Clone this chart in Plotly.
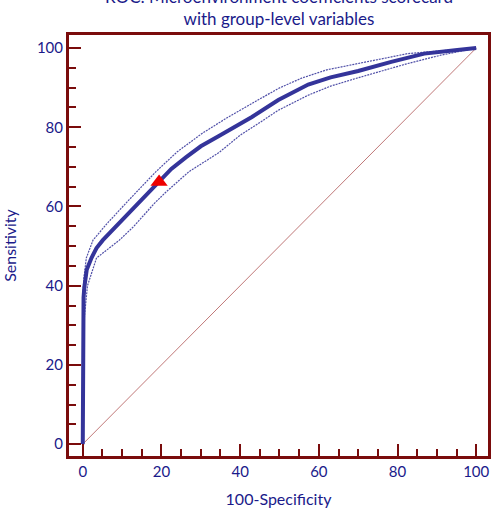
import plotly.graph_objects as go

# ROC curve (100-Specificity, Sensitivity)
fpr = [0, 0, 0.2, 0.4, 1, 2.2, 3.5, 5.1, 7.5, 10, 14.8, 19.4, 22.5, 26.2, 30, 34.6, 39, 43, 49.7, 57.3, 63, 70, 78.4, 86.8, 95.2, 100]
sens = [0, 32, 37, 39.6, 44, 47, 49.5, 51.5, 54, 56.5, 61.5, 66.2, 69.5, 72.4, 75.2, 77.8, 80.3, 82.6, 86.9, 90.8, 92.6, 94.2, 96.5, 98.6, 99.5, 100]

# Confidence bounds
fpr_upper = [0, 0, 0.3, 0.9, 2.6, 6, 11.4, 18.6, 24, 30.4, 37, 44.7, 49.7, 55.6, 62, 70, 82.6, 91, 100]
sens_upper = [0, 37, 42, 47, 51.5, 55.5, 61.3, 68.8, 73.8, 78.5, 82.6, 86.9, 89.8, 92.4, 94.5, 96.1, 98.6, 99.3, 100]
fpr_lower = [0, 0, 0.5, 1.2, 3.5, 9.3, 13, 18.2, 21.1, 27, 34.6, 40, 44.7, 49.7, 57.3, 63, 70, 82.6, 91, 100]
sens_lower = [0, 27, 33, 40, 47, 51.5, 55, 60.8, 63.6, 68.8, 73.6, 78, 81.0, 84.3, 88.1, 90.4, 92.5, 96.1, 98.2, 100]

# Optimal criterion point
opt_x = [19.4]
opt_y = [66.2]

diag = [0, 100]

navy = "#1a1a8a"
curve_col = "#34349a"
frame_col = "#7a0c0c"
font_family = "Lato, 'Open Sans', sans-serif"

fig = go.Figure()
fig.add_trace(go.Scatter(x=diag, y=diag, mode="lines",
                         line=dict(color="#c07878", width=1), hoverinfo="skip"))
fig.add_trace(go.Scatter(x=fpr_upper, y=sens_upper, mode="lines",
                         line=dict(color="#5050a8", width=1.2, dash="2px,1px")))
fig.add_trace(go.Scatter(x=fpr_lower, y=sens_lower, mode="lines",
                         line=dict(color="#5050a8", width=1.2, dash="2px,1px")))
fig.add_trace(go.Scatter(x=fpr, y=sens, mode="lines",
                         line=dict(color=curve_col, width=4)))
fig.add_trace(go.Scatter(x=opt_x, y=opt_y, mode="markers",
                         marker=dict(symbol="triangle-up", color="#ee0000", size=15)))

axis_common = dict(
    showline=True, mirror=True, linecolor=frame_col, linewidth=3,
    ticks="inside", ticklen=12, tickwidth=2, tickcolor=frame_col,
    tick0=0, dtick=20,
    minor=dict(ticks="inside", ticklen=7, tickwidth=2, tickcolor=frame_col, dtick=5, showgrid=False),
    showgrid=False, zeroline=False,
    tickfont=dict(family=font_family, size=15, color=navy),
)

fig.update_layout(
    width=496, height=512,
    margin=dict(l=69, r=5, t=35, b=56),
    paper_bgcolor="white", plot_bgcolor="white",
    showlegend=False,
    font=dict(family=font_family, color=navy),
    xaxis=dict(range=[-3.5, 103], title=dict(text="100-Specificity", font=dict(size=16, color=navy), standoff=15), **axis_common),
    yaxis=dict(range=[-3.0, 103.3], title=dict(text="Sensitivity", font=dict(size=16, color=navy), standoff=18), **axis_common),
    annotations=[dict(
        text="ROC: Microenvironment coefficients scorecard<br>with group-level variables",
        xref="paper", yref="paper", x=0.5, y=1.065, xanchor="center", yanchor="middle",
        showarrow=False, font=dict(family=font_family, size=17, color=navy),
    )],
)

fig.write_html("out.html")
